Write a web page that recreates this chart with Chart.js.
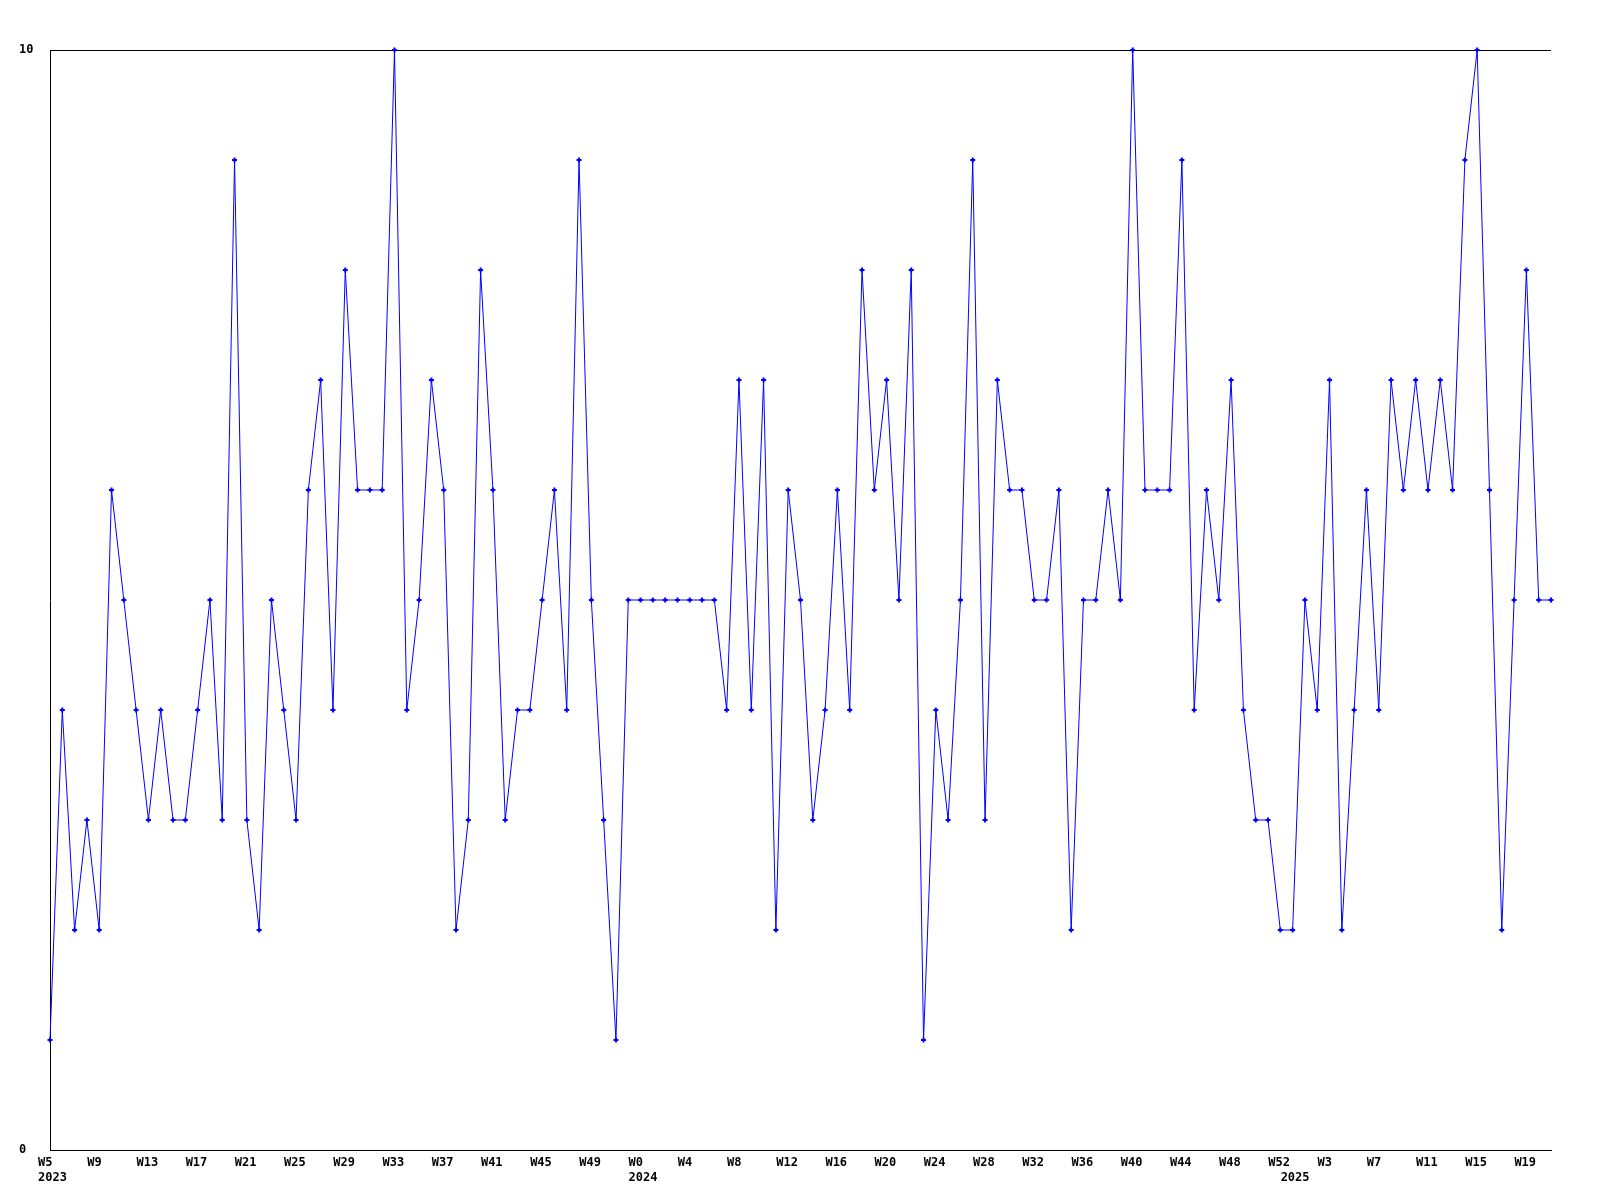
<!DOCTYPE html>
<html>
<head>
<meta charset="utf-8">
<script src="https://cdn.jsdelivr.net/npm/chart.js@4/dist/chart.umd.min.js"></script>
<style>
  html, body { margin: 0; padding: 0; background: #fff; }
  #wrap { width: 1600px; height: 1200px; }
</style>
</head>
<body>
<div id="wrap"><canvas id="weekChart" width="1600" height="1200"></canvas></div>
<script>
// weekly values, 2023 W5 .. 2025 W21
const years = [2023, 2023, 2023, 2023, 2023, 2023, 2023, 2023, 2023, 2023, 2023, 2023, 2023, 2023, 2023, 2023,
  2023, 2023, 2023, 2023, 2023, 2023, 2023, 2023, 2023, 2023, 2023, 2023, 2023, 2023, 2023, 2023,
  2023, 2023, 2023, 2023, 2023, 2023, 2023, 2023, 2023, 2023, 2023, 2023, 2023, 2023, 2023, 2023,
  2024, 2024, 2024, 2024, 2024, 2024, 2024, 2024, 2024, 2024, 2024, 2024, 2024, 2024, 2024, 2024,
  2024, 2024, 2024, 2024, 2024, 2024, 2024, 2024, 2024, 2024, 2024, 2024, 2024, 2024, 2024, 2024,
  2024, 2024, 2024, 2024, 2024, 2024, 2024, 2024, 2024, 2024, 2024, 2024, 2024, 2024, 2024, 2024,
  2024, 2024, 2024, 2024, 2024,
  2025, 2025, 2025, 2025, 2025, 2025, 2025, 2025, 2025, 2025, 2025, 2025, 2025, 2025, 2025, 2025,
  2025, 2025, 2025, 2025, 2025, 2025];
const weeks = [5, 6, 7, 8, 9, 10, 11, 12, 13, 14, 15, 16, 17, 18, 19, 20,
  21, 22, 23, 24, 25, 26, 27, 28, 29, 30, 31, 32, 33, 34, 35, 36,
  37, 38, 39, 40, 41, 42, 43, 44, 45, 46, 47, 48, 49, 50, 51, 52,
  0, 1, 2, 3, 4, 5, 6, 7, 8, 9, 10, 11, 12, 13, 14, 15,
  16, 17, 18, 19, 20, 21, 22, 23, 24, 25, 26, 27, 28, 29, 30, 31,
  32, 33, 34, 35, 36, 37, 38, 39, 40, 41, 42, 43, 44, 45, 46, 47,
  48, 49, 50, 51, 52,
  0, 1, 2, 3, 4, 5, 6, 7, 8, 9, 10, 11, 12, 13, 14, 15,
  16, 17, 18, 19, 20, 21];
const values = [1, 4, 2, 3, 2, 6, 5, 4, 3, 4, 3, 3, 4, 5, 3, 9,
  3, 2, 5, 4, 3, 6, 7, 4, 8, 6, 6, 6, 10, 4, 5, 7,
  6, 2, 3, 8, 6, 3, 4, 4, 5, 6, 4, 9, 5, 3, 1, 5,
  5, 5, 5, 5, 5, 5, 5, 4, 7, 4, 7, 2, 6, 5, 3, 4,
  6, 4, 8, 6, 7, 5, 8, 1, 4, 3, 5, 9, 3, 7, 6, 6,
  5, 5, 6, 2, 5, 5, 6, 5, 10, 6, 6, 6, 9, 4, 6, 5,
  7, 4, 3, 3, 2,
  2, 5, 4, 7, 2, 4, 6, 4, 7, 6, 7, 6, 7, 6, 9, 10,
  6, 2, 5, 8, 5, 5];
const yTicks = [0, 10];

const labels = weeks.map((w, i) => years[i] + '-W' + w);

Chart.defaults.font.family = '"DejaVu Sans Mono", "Liberation Mono", monospace';
Chart.defaults.font.size = 12;
Chart.defaults.font.weight = 'bold';
Chart.defaults.color = '#000';

const ctx = document.getElementById('weekChart').getContext('2d');
new Chart(ctx, {
    type: 'line',
    data: {
        labels: labels,
        datasets: [{
            data: values,
            borderColor: '#0000ff',
            backgroundColor: '#0000ff',
            borderWidth: 1,
            tension: 0,
            pointStyle: 'cross',
            pointRadius: 2.5,
            pointBorderWidth: 2,
            clip: false
        }]
    },
    options: {
        responsive: false,
        animation: false,
        layout: { padding: { left: 19, top: 50, right: 49, bottom: 0 } },
        plugins: { legend: { display: false }, tooltip: { enabled: false } },
        scales: {
            x: {
                grid: { display: false, drawTicks: false },
                border: { display: true, color: '#000', width: 1 },
                afterFit: s => { s.height = 50; },
                ticks: {
                    autoSkip: false,
                    maxRotation: 0,
                    minRotation: 0,
                    align: 'start',
                    labelOffset: -12,
                    padding: 5,
                    font: { size: 12, weight: 'bold', lineHeight: 1.25 },
                    callback: (v, i) => {
                        const first = i === 0 || years[i] !== years[i - 1];
                        const wk = i % 4 === 0 ? 'W' + weeks[i] : '';
                        if (!wk && !first) return '';
                        return [wk, first ? String(years[i]) : ''];
                    }
                }
            },
            y: {
                min: 0,
                max: 10,
                afterFit: s => { s.width = 31; },
                afterBuildTicks: s => { s.ticks = yTicks.map(v => ({ value: v })); },
                grid: { color: '#000', lineWidth: 1, drawTicks: false },
                border: { display: true, color: '#000', width: 1 },
                ticks: { crossAlign: 'far', font: { size: 12, weight: 'bold' } }
            }
        }
    }
});
</script>
</body>
</html>
